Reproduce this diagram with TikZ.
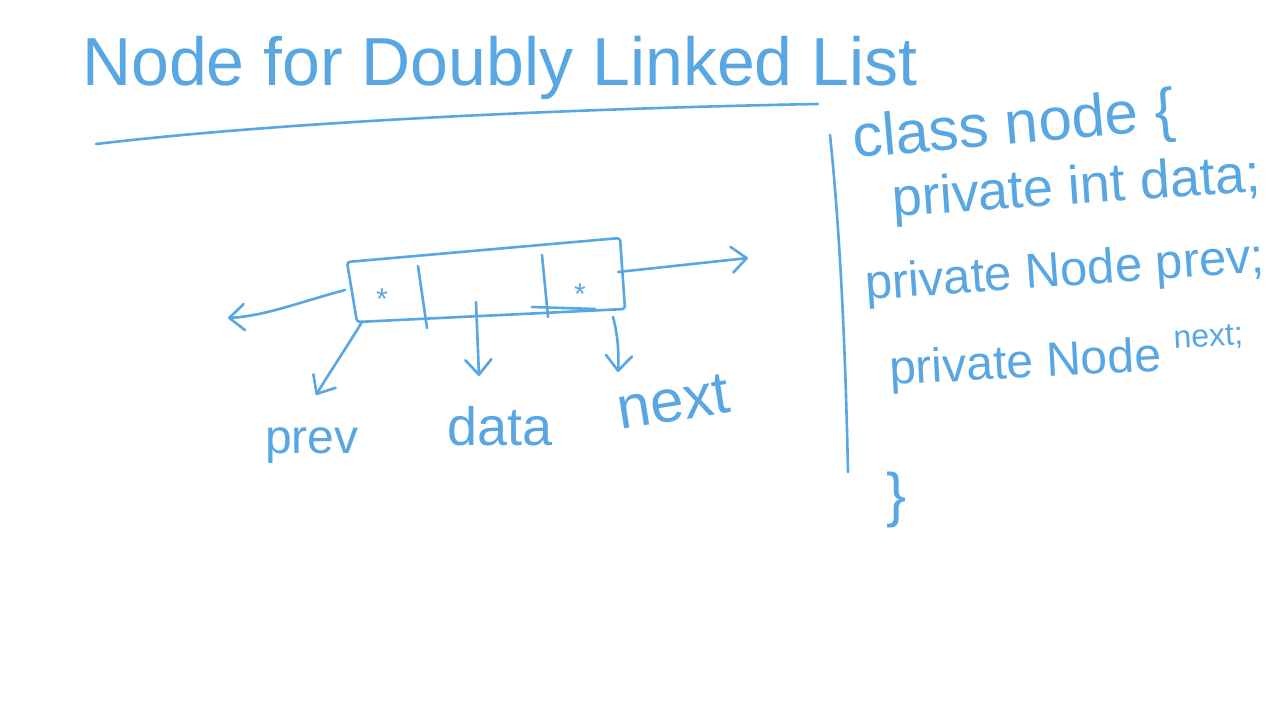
\documentclass[tikz,border=0pt]{standalone}
\usepackage{fontspec}
\setmainfont{Liberation Sans}
\usetikzlibrary{arrows.meta}
\definecolor{ink}{HTML}{58A6E2}
\begin{document}
\begin{tikzpicture}[x=1pt,y=-1pt,
  pen/.style={draw=ink,line width=2.6pt,line cap=round,line join=round},
  arr/.style={pen,-{Straight Barb[length=15pt,width=26pt,round]}},
  hand/.style={text=ink,inner sep=0pt,anchor=base west},
  fs/.style={font=\fontsize{#1}{#1}\selectfont}]
\useasboundingbox (0,0) rectangle (1280,720);
% title
\node[hand,fs=68] (title) at (82,85) {Node for Doubly Linked List};
\coordinate (u1) at (96,144);
\coordinate (u2) at (818,104);
\draw[pen] (u1) .. controls (300,120) and (600,108) .. (u2);
% separator
\coordinate (v1) at (830,135);
\coordinate (v2) at (848,472);
\draw[pen] (v1) .. controls (842,250) and (846,380) .. (v2);
% box
\coordinate (b1) at (347,262);
\coordinate (b2) at (620,238);
\coordinate (b3) at (625,309);
\coordinate (b4) at (357,322);
\draw[pen,rounded corners=3pt] (b1) -- (b2) -- (b3) -- (b4) -- cycle;
\coordinate (d1t) at (418,266);
\coordinate (d1b) at (427,328);
\coordinate (d2t) at (542,255);
\coordinate (d2b) at (548,317);
\draw[pen] (d1t) -- (d1b);
\draw[pen] (d2t) -- (d2b);
\coordinate (x1) at (532,307);
\coordinate (x2) at (595,309);
\draw[pen] (x1) -- (x2);
\node[text=ink,inner sep=0pt,anchor=base,fs=30] (s1) at (382,309) {*};
\node[text=ink,inner sep=0pt,anchor=base,fs=30] (s2) at (580,304) {*};
% arrows
\coordinate (ra1) at (618,272);
\coordinate (ra2) at (748,258);
\draw[arr] (ra1) -- (ra2);
\coordinate (la1) at (345,290);
\coordinate (la2) at (228,318);
\draw[arr] (la1) .. controls (300,302) and (265,316) .. (la2);
\coordinate (pa1) at (362,322);
\coordinate (pa2) at (316,395);
\draw[arr] (pa1) .. controls (348,345) and (330,372) .. (pa2);
\coordinate (da1) at (476,302);
\coordinate (da2) at (479,376);
\draw[arr] (da1) -- (da2);
\coordinate (na1) at (613,317);
\coordinate (na2) at (618,372);
\draw[arr] (na1) .. controls (618,335) and (619,355) .. (na2);
% labels
\node[hand,fs=48] (lprev) at (265,453) {prev};
\node[hand,fs=54] (ldata) at (447,445) {data};
\node[hand,fs=60,rotate=9] (lnext) at (620,430) {next};
% code
\node[hand,fs=60,rotate=5] (c1) at (854,158) {class node \{};
\node[hand,fs=54,rotate=4] (c2) at (893,217) {private int data;};
\node[hand,fs=49,rotate=4] (c3) at (866,300) {private Node prev;};
\node[hand,fs=48,rotate=3] (c4) at (890,385) {private Node \raisebox{22pt}{\fontsize{32}{32}\selectfont next;}};
\node[text=ink,inner sep=0pt,fs=60] (c5) at (897,500) {\}};
\end{tikzpicture}
\end{document}
